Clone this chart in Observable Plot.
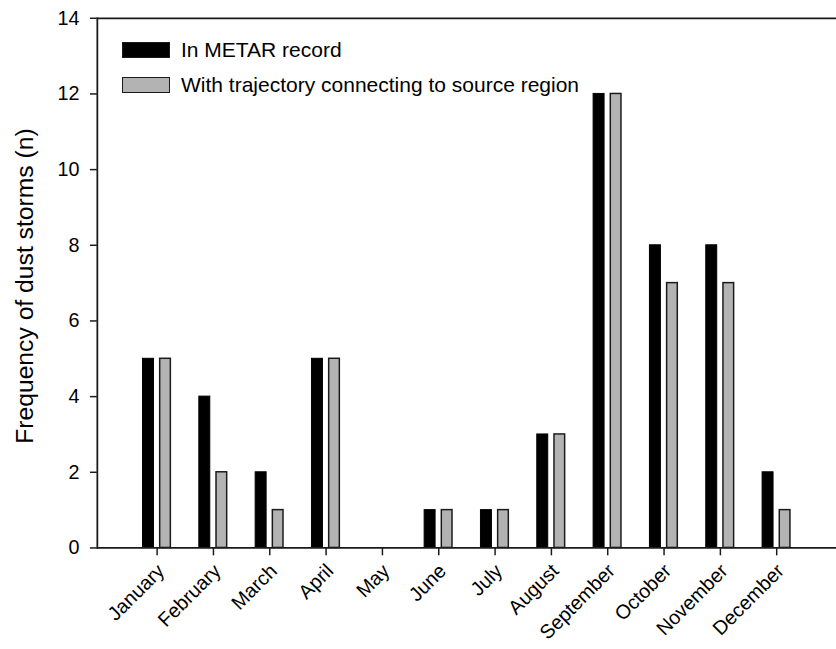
<!DOCTYPE html>
<html>
<head>
<meta charset="utf-8">
<script src="https://cdn.jsdelivr.net/npm/d3@7"></script>
<script src="https://cdn.jsdelivr.net/npm/@observablehq/plot@0.6"></script>
<style>
  html, body { margin: 0; padding: 0; background: #fff; }
  #wrap { position: relative; width: 836px; height: 649px; overflow: hidden; font-family: "Liberation Sans", Arial, sans-serif; }
  #legend { position: absolute; left: 122px; top: 32px; font-size: 21px; color: #000; }
  .item { display: flex; align-items: center; height: 35.5px; }
  .sw { width: 46px; height: 14px; border: 1.5px solid #1a1a1a; margin-right: 11px; }
</style>
</head>
<body>
<div id="wrap">
  <div id="chart"></div>
  <div id="legend"></div>
</div>
<script>
const months = ["January","February","March","April","May","June","July","August","September","October","November","December"];
const metar = [5, 4, 2, 5, 0, 1, 1, 3, 12, 8, 8, 2];
const trajectory = [5, 2, 1, 5, 0, 1, 1, 3, 12, 7, 7, 1];
const seriesNames = ["In METAR record", "With trajectory connecting to source region"];
const seriesColors = ["#000000", "#b3b3b3"];
const yTicks = [0, 2, 4, 6, 8, 10, 12, 14];

const rowsA = months.map((m, i) => ({month: m, value: metar[i]}));
const rowsB = months.map((m, i) => ({month: m, value: trajectory[i]}));

const chart = Plot.plot({
  width: 846,
  height: 649,
  marginLeft: 98,
  marginRight: 0,
  marginTop: 18,
  marginBottom: 95,
  style: {fontFamily: "'Liberation Sans', Arial, sans-serif", color: "#000", background: "#fff"},
  x: {domain: months, paddingInner: 0, paddingOuter: 0.524},
  y: {domain: [0, 14]},
  marks: [
    Plot.barY(rowsA, {x: "month", y: "value", fill: seriesColors[0], stroke: "#000", strokeWidth: 1, insetLeft: 14.2, insetRight: 31.7}),
    Plot.barY(rowsB, {x: "month", y: "value", fill: seriesColors[1], stroke: "#1a1a1a", strokeWidth: 1.5, insetLeft: 31.6, insetRight: 14.6}),
    Plot.ruleY([0], {stroke: "#1a1a1a", strokeWidth: 1.8}),
    Plot.ruleY([14], {stroke: "#1a1a1a", strokeWidth: 1.8}),
    Plot.frame({anchor: "left", stroke: "#1a1a1a", strokeWidth: 1.8}),
    Plot.axisY({ticks: yTicks, tickSize: 7, tickPadding: 11, fontSize: 20, label: null, stroke: "#1a1a1a", strokeWidth: 1.5}),
    Plot.axisX({tickSize: 8, tickFormat: () => "", label: null, stroke: "#1a1a1a", strokeWidth: 1.5}),
    Plot.axisX({tickRotate: -45, tickSize: 0, tickPadding: 20, dx: 4, fontSize: 20, label: null}),
    Plot.text(["Frequency of dust storms (n)"], {frameAnchor: "left", textAnchor: "middle", rotate: -90, dx: -73, dy: 3, fontSize: 25, fill: "#000"})
  ]
});
document.getElementById("chart").appendChild(chart);

const legend = document.getElementById("legend");
seriesNames.forEach((name, i) => {
  const item = document.createElement("div");
  item.className = "item";
  const sw = document.createElement("div");
  sw.className = "sw";
  sw.style.background = seriesColors[i];
  const label = document.createElement("span");
  label.textContent = name;
  item.appendChild(sw);
  item.appendChild(label);
  legend.appendChild(item);
});
</script>
</body>
</html>
